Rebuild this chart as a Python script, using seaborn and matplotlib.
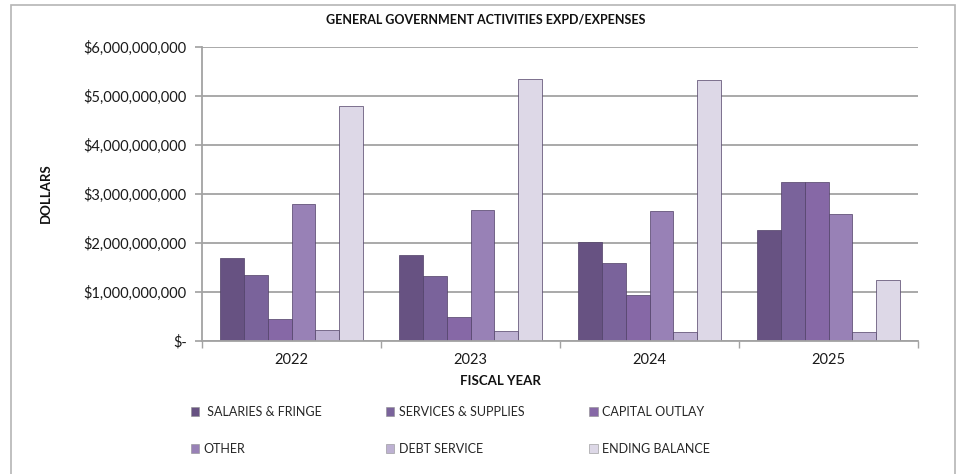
import matplotlib
matplotlib.use("Agg")
import matplotlib.pyplot as plt
import matplotlib.ticker as mticker
from matplotlib.patches import Rectangle, Patch
import seaborn as sns
import pandas as pd

years = ["2022", "2023", "2024", "2025"]
categories = ["SALARIES & FRINGE", "SERVICES & SUPPLIES", "CAPITAL OUTLAY",
              "OTHER", "DEBT SERVICE", "ENDING BALANCE"]
salaries = [1.694e9, 1.748e9, 2.014e9, 2.259e9]
services = [1.354e9, 1.333e9, 1.592e9, 3.238e9]
capital = [0.449e9, 0.490e9, 0.939e9, 3.238e9]
other = [2.789e9, 2.680e9, 2.653e9, 2.585e9]
debt = [0.231e9, 0.197e9, 0.177e9, 0.190e9]
ending = [4.796e9, 5.354e9, 5.320e9, 1.238e9]
colors = ["#675282", "#7a639b", "#8668a6", "#9881b6", "#bdb1d2", "#ddd8e7"]

series = [salaries, services, capital, other, debt, ending]
rows = []
for cat, vals in zip(categories, series):
    for yr, v in zip(years, vals):
        rows.append({"year": yr, "category": cat, "value": v})
df = pd.DataFrame(rows)

sns.set_theme(style="white")
plt.rcParams["font.family"] = ["Lato", "DejaVu Sans"]

W, H = 972, 474
fig = plt.figure(figsize=(W / 100, H / 100), dpi=100)
ax = fig.add_axes([202 / W, 1 - 341 / H, (918 - 202) / W, (341 - 47) / H])

sns.barplot(data=df, x="year", y="value", hue="category", hue_order=categories,
            order=years, palette=colors, saturation=1, width=0.8,
            edgecolor="#4f3f66", linewidth=0.5, legend=False, ax=ax)

ax.set_ylim(0, 6e9)
ax.set_xlim(-0.5, 3.5)
ax.yaxis.set_major_locator(mticker.MultipleLocator(1e9))


def dollars(v, pos):
    if v == 0:
        return "$-"
    return "${:,.0f}".format(v)


ax.yaxis.set_major_formatter(mticker.FuncFormatter(dollars))
ax.grid(axis="y", color="#a3a3a3", linewidth=1.3)
ax.set_axisbelow(True)
for s in ["top", "right"]:
    ax.spines[s].set_visible(False)
for s in ["left", "bottom"]:
    ax.spines[s].set_color("#a3a3a3")
    ax.spines[s].set_linewidth(1.3)

ax.tick_params(axis="y", which="major", left=True, length=5, color="#a3a3a3",
               labelsize=10.5, labelcolor="#1a1a1a", pad=6)
ax.tick_params(axis="x", which="major", bottom=False, labelsize=10.5,
               labelcolor="#1a1a1a", pad=3)
ax.set_xticks([-0.5, 0.5, 1.5, 2.5, 3.5], minor=True)
ax.tick_params(axis="x", which="minor", bottom=True, length=5, color="#a3a3a3")

ax.set_xlabel("")
ax.set_ylabel("")
fig.text(486 / W, 1 - 20 / H, "GENERAL GOVERNMENT ACTIVITIES EXPD/EXPENSES",
         ha="center", va="center", fontsize=9, fontweight="bold", color="#111111")
fig.text(500 / W, 1 - 381 / H, "FISCAL YEAR", ha="center", va="center",
         fontsize=9.5, fontweight="bold", color="#111111")
fig.text(46 / W, 1 - 193 / H, "DOLLARS", ha="center", va="center", rotation=90,
         fontsize=9.5, fontweight="bold", color="#111111")

handles = [Patch(facecolor=c, edgecolor="#8f8f8f", linewidth=0.4) for c in colors]
labels = [" SALARIES & FRINGE", "SERVICES & SUPPLIES", "CAPITAL OUTLAY",
          "OTHER", "DEBT SERVICE", "ENDING BALANCE"]
# order so that the legend fills row by row across three columns
order = [0, 3, 1, 4, 2, 5]
fig.legend([handles[i] for i in order], [labels[i] for i in order],
           ncol=3, loc="upper left", bbox_to_anchor=(191 / W, 1 - 406 / H),
           frameon=False, fontsize=9, handlelength=0.65, handleheight=0.65,
           handletextpad=0.35, columnspacing=5.2, labelspacing=2.0,
           borderaxespad=0, borderpad=0)

fig.patches.append(Rectangle((11 / W, -0.01), (955 - 11) / W, 1 - 5 / H + 0.01,
                             transform=fig.transFigure, fill=False,
                             edgecolor="#b5b5b5", linewidth=1.2))

fig.savefig("out.png", dpi=100, facecolor="white")
